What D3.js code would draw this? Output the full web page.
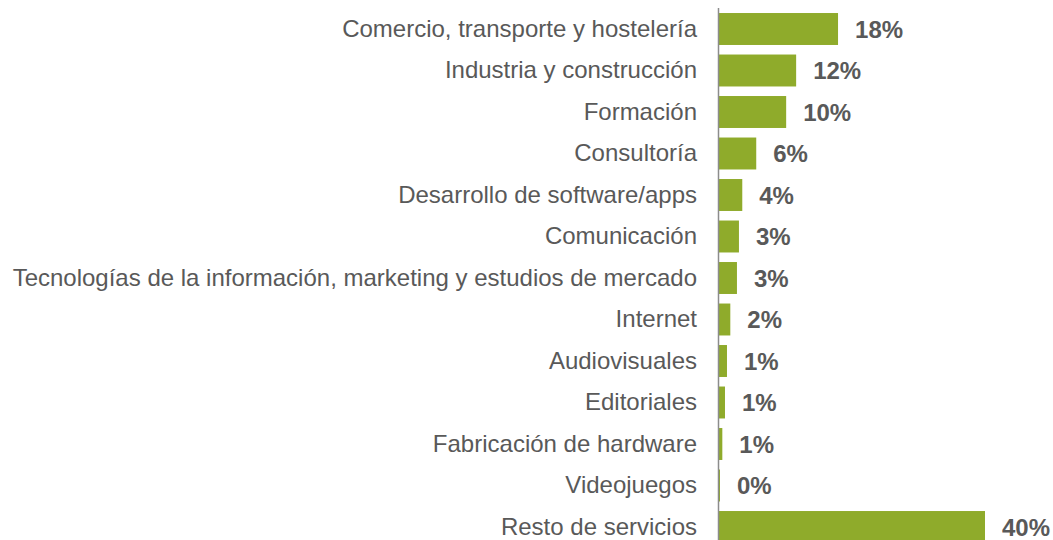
<!DOCTYPE html>
<html>
<head>
<meta charset="utf-8">
<script src="https://cdn.jsdelivr.net/npm/d3@7"></script>
<style>
  body { margin: 0; background: #fff; }
  text { font-family: "Liberation Sans", Arial, sans-serif; }
</style>
</head>
<body>
<div class="canvas"></div>
<script>
// data
const sectors = [
  'Comercio, transporte y hostelería',
  'Industria y construcción',
  'Formación',
  'Consultoría',
  'Desarrollo de software/apps',
  'Comunicación',
  'Tecnologías de la información, marketing y estudios de mercado',
  'Internet',
  'Audiovisuales',
  'Editoriales',
  'Fabricación de hardware',
  'Videojuegos',
  'Resto de servicios'
]
const shares = [17.9, 11.6, 10.1, 5.6, 3.5, 3.0, 2.7, 1.7, 1.2, 0.9, 0.5, 0.15, 40]
const shareLabels = ['18%', '12%', '10%', '6%', '4%', '3%', '3%', '2%', '1%', '1%', '1%', '0%', '40%']

const width = 1053
const height = 540
const axisX = 719

const svg = d3.select('.canvas').append('svg').attr('width', width).attr('height', height)

// scales
const x = d3.scaleLinear().domain([0, 40]).range([axisX, 985])
const y = d3.scaleBand().domain(sectors).range([8.25, 547.75]).paddingInner(0.23).paddingOuter(0.115)

const rows = sectors.map((s, i) => ({ sector: s, value: shares[i], label: shareLabels[i] }))

// bars
svg.selectAll('rect').data(rows).enter().append('rect')
  .attr('x', x(0))
  .attr('y', d => y(d.sector))
  .attr('width', d => x(d.value) - x(0))
  .attr('height', y.bandwidth())
  .attr('fill', '#8fab2b')

// value labels
svg.selectAll('.val').data(rows).enter().append('text').attr('class', 'val')
  .attr('x', d => x(d.value) + 17)
  .attr('y', d => y(d.sector) + y.bandwidth() / 2)
  .attr('dy', '0.36em')
  .attr('fill', '#595959')
  .attr('font-weight', 'bold')
  .attr('font-size', 24)
  .text(d => d.label)

// category axis
const yAxis = d3.axisLeft(y).tickSize(0).tickPadding(22)
const yAxisGroup = svg.append('g').attr('transform', `translate(${axisX},0)`).call(yAxis)
yAxisGroup.select('.domain').remove()
yAxisGroup.selectAll('text').attr('font-size', 24).attr('fill', '#595959')

svg.append('line')
  .attr('x1', axisX - 0.5).attr('x2', axisX - 0.5)
  .attr('y1', 8).attr('y2', height)
  .attr('stroke', '#8c8c8c').attr('stroke-width', 1.5)
</script>
</body>
</html>
